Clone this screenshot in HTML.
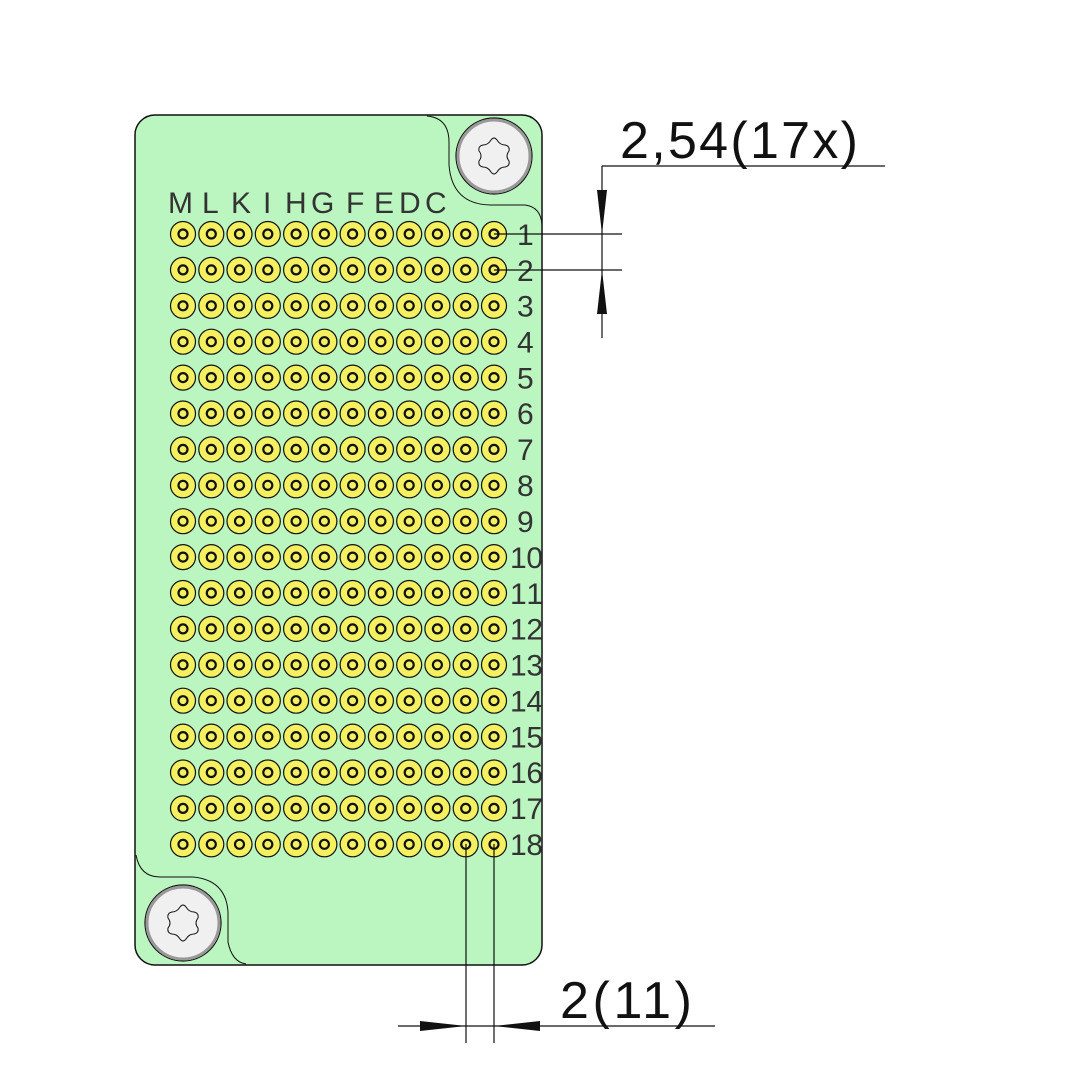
<!DOCTYPE html>
<html><head><style>body{margin:0;background:#fff}svg{display:block}</style></head><body>
<svg width="1083" height="1083" viewBox="0 0 1083 1083" xmlns="http://www.w3.org/2000/svg" xmlns:xlink="http://www.w3.org/1999/xlink" font-family="Liberation Sans, sans-serif">
<defs>
<g id="p"><circle r="12.5" fill="#f5f060" stroke="#111" stroke-width="1.2"/><circle r="4.5" fill="none" stroke="#111" stroke-width="2.2"/></g>
<g id="row">
<use xlink:href="#p" x="183" y="0"/><use xlink:href="#p" x="211.3" y="0"/><use xlink:href="#p" x="239.5" y="0"/><use xlink:href="#p" x="267.8" y="0"/>
<use xlink:href="#p" x="296.1" y="0"/><use xlink:href="#p" x="324.4" y="0"/><use xlink:href="#p" x="352.6" y="0"/><use xlink:href="#p" x="380.9" y="0"/>
<use xlink:href="#p" x="409.2" y="0"/><use xlink:href="#p" x="437.4" y="0"/><use xlink:href="#p" x="465.7" y="0"/><use xlink:href="#p" x="494" y="0"/>
</g>
<path id="star" d="M-3,-16 Q0,-20 3,-16 Q6,-11 11,-11 Q16,-10 15,-5 Q11,0 15,5 Q16,10 11,11 Q6,11 3,16 Q0,20 -3,16 Q-6,11 -11,11 Q-16,10 -15,5 Q-11,0 -15,-5 Q-16,-10 -11,-11 Q-6,-11 -3,-16Z" fill="none" stroke="#111" stroke-width="1"/>
</defs>
<rect x="135" y="115" width="407" height="850" rx="20" fill="#bbf5c0" stroke="#111" stroke-width="1.5"/>
<path d="M427 116 Q449 118 449 142 L449 165 Q452 204 490 205 L525 205 Q541 207 542 225" fill="none" stroke="#111" stroke-width="1"/>
<path d="M136 855 Q140 877 160 877 L193 877 Q226 880 228 912 L228 942 Q232 962 246 964" fill="none" stroke="#111" stroke-width="1"/>
<circle cx="494" cy="156" r="38" fill="#f0f0f0" stroke="#111" stroke-width="1.2"/>
<circle cx="494" cy="156" r="36" fill="none" stroke="#999" stroke-width="3"/>
<circle cx="183" cy="923" r="38" fill="#f0f0f0" stroke="#111" stroke-width="1.2"/>
<circle cx="183" cy="923" r="36" fill="none" stroke="#999" stroke-width="3"/>
<use xlink:href="#star" x="494" y="156"/>
<use xlink:href="#star" x="183" y="923"/>
<use xlink:href="#row" y="234"/><use xlink:href="#row" y="269.9"/><use xlink:href="#row" y="305.8"/><use xlink:href="#row" y="341.7"/>
<use xlink:href="#row" y="377.6"/><use xlink:href="#row" y="413.5"/><use xlink:href="#row" y="449.4"/><use xlink:href="#row" y="485.3"/>
<use xlink:href="#row" y="521.2"/><use xlink:href="#row" y="557.1"/><use xlink:href="#row" y="593"/><use xlink:href="#row" y="628.9"/>
<use xlink:href="#row" y="664.8"/><use xlink:href="#row" y="700.7"/><use xlink:href="#row" y="736.6"/><use xlink:href="#row" y="772.5"/>
<use xlink:href="#row" y="808.4"/><use xlink:href="#row" y="844.3"/>
<g font-size="30" fill="#333">
<text x="517" y="245">1</text><text x="517" y="281">2</text><text x="517" y="316.5">3</text><text x="517" y="352.5">4</text>
<text x="517" y="388.5">5</text><text x="517" y="424">6</text><text x="517" y="460">7</text><text x="517" y="496">8</text>
<text x="517" y="532">9</text><text x="510" y="568" textLength="33">10</text><text x="510" y="604" textLength="33">11</text><text x="510" y="639.5" textLength="33">12</text>
<text x="510" y="675.5" textLength="33">13</text><text x="510" y="711.5" textLength="33">14</text><text x="510" y="747.5" textLength="33">15</text><text x="510" y="783" textLength="33">16</text>
<text x="510" y="819" textLength="33">17</text><text x="510" y="855" textLength="33">18</text>
</g>
<g font-size="30" fill="#333">
<text x="168" y="213">M</text><text x="202" y="213">L</text><text x="231" y="213">K</text><text x="263" y="213">I</text><text x="285" y="213">H</text>
<text x="311" y="213">G</text><text x="346" y="213">F</text><text x="374" y="213">E</text><text x="399" y="213">D</text><text x="425" y="213">C</text>
</g>
<g stroke="#111" stroke-width="1.2" fill="none">
<line x1="494" y1="234" x2="622" y2="234"/><line x1="494" y1="270" x2="622" y2="270"/>
<line x1="602" y1="166" x2="885" y2="166"/><line x1="602" y1="166" x2="602" y2="338"/>
<line x1="466" y1="844" x2="466" y2="1043"/><line x1="494" y1="844" x2="494" y2="1043"/>
<line x1="398" y1="1026" x2="715" y2="1026"/>
</g>
<g fill="#111">
<polygon points="602,234 597,190 607,190"/><polygon points="602,270 597,314 607,314"/>
<polygon points="466,1026 420,1021 420,1031"/><polygon points="494,1026 540,1021 540,1031"/>
</g>
<text x="620" y="158" font-size="52" fill="#111" textLength="238">2,54(17x)</text>
<text x="560" y="1018" font-size="52" fill="#111" textLength="132">2(11)</text>
</svg>
</body></html>
